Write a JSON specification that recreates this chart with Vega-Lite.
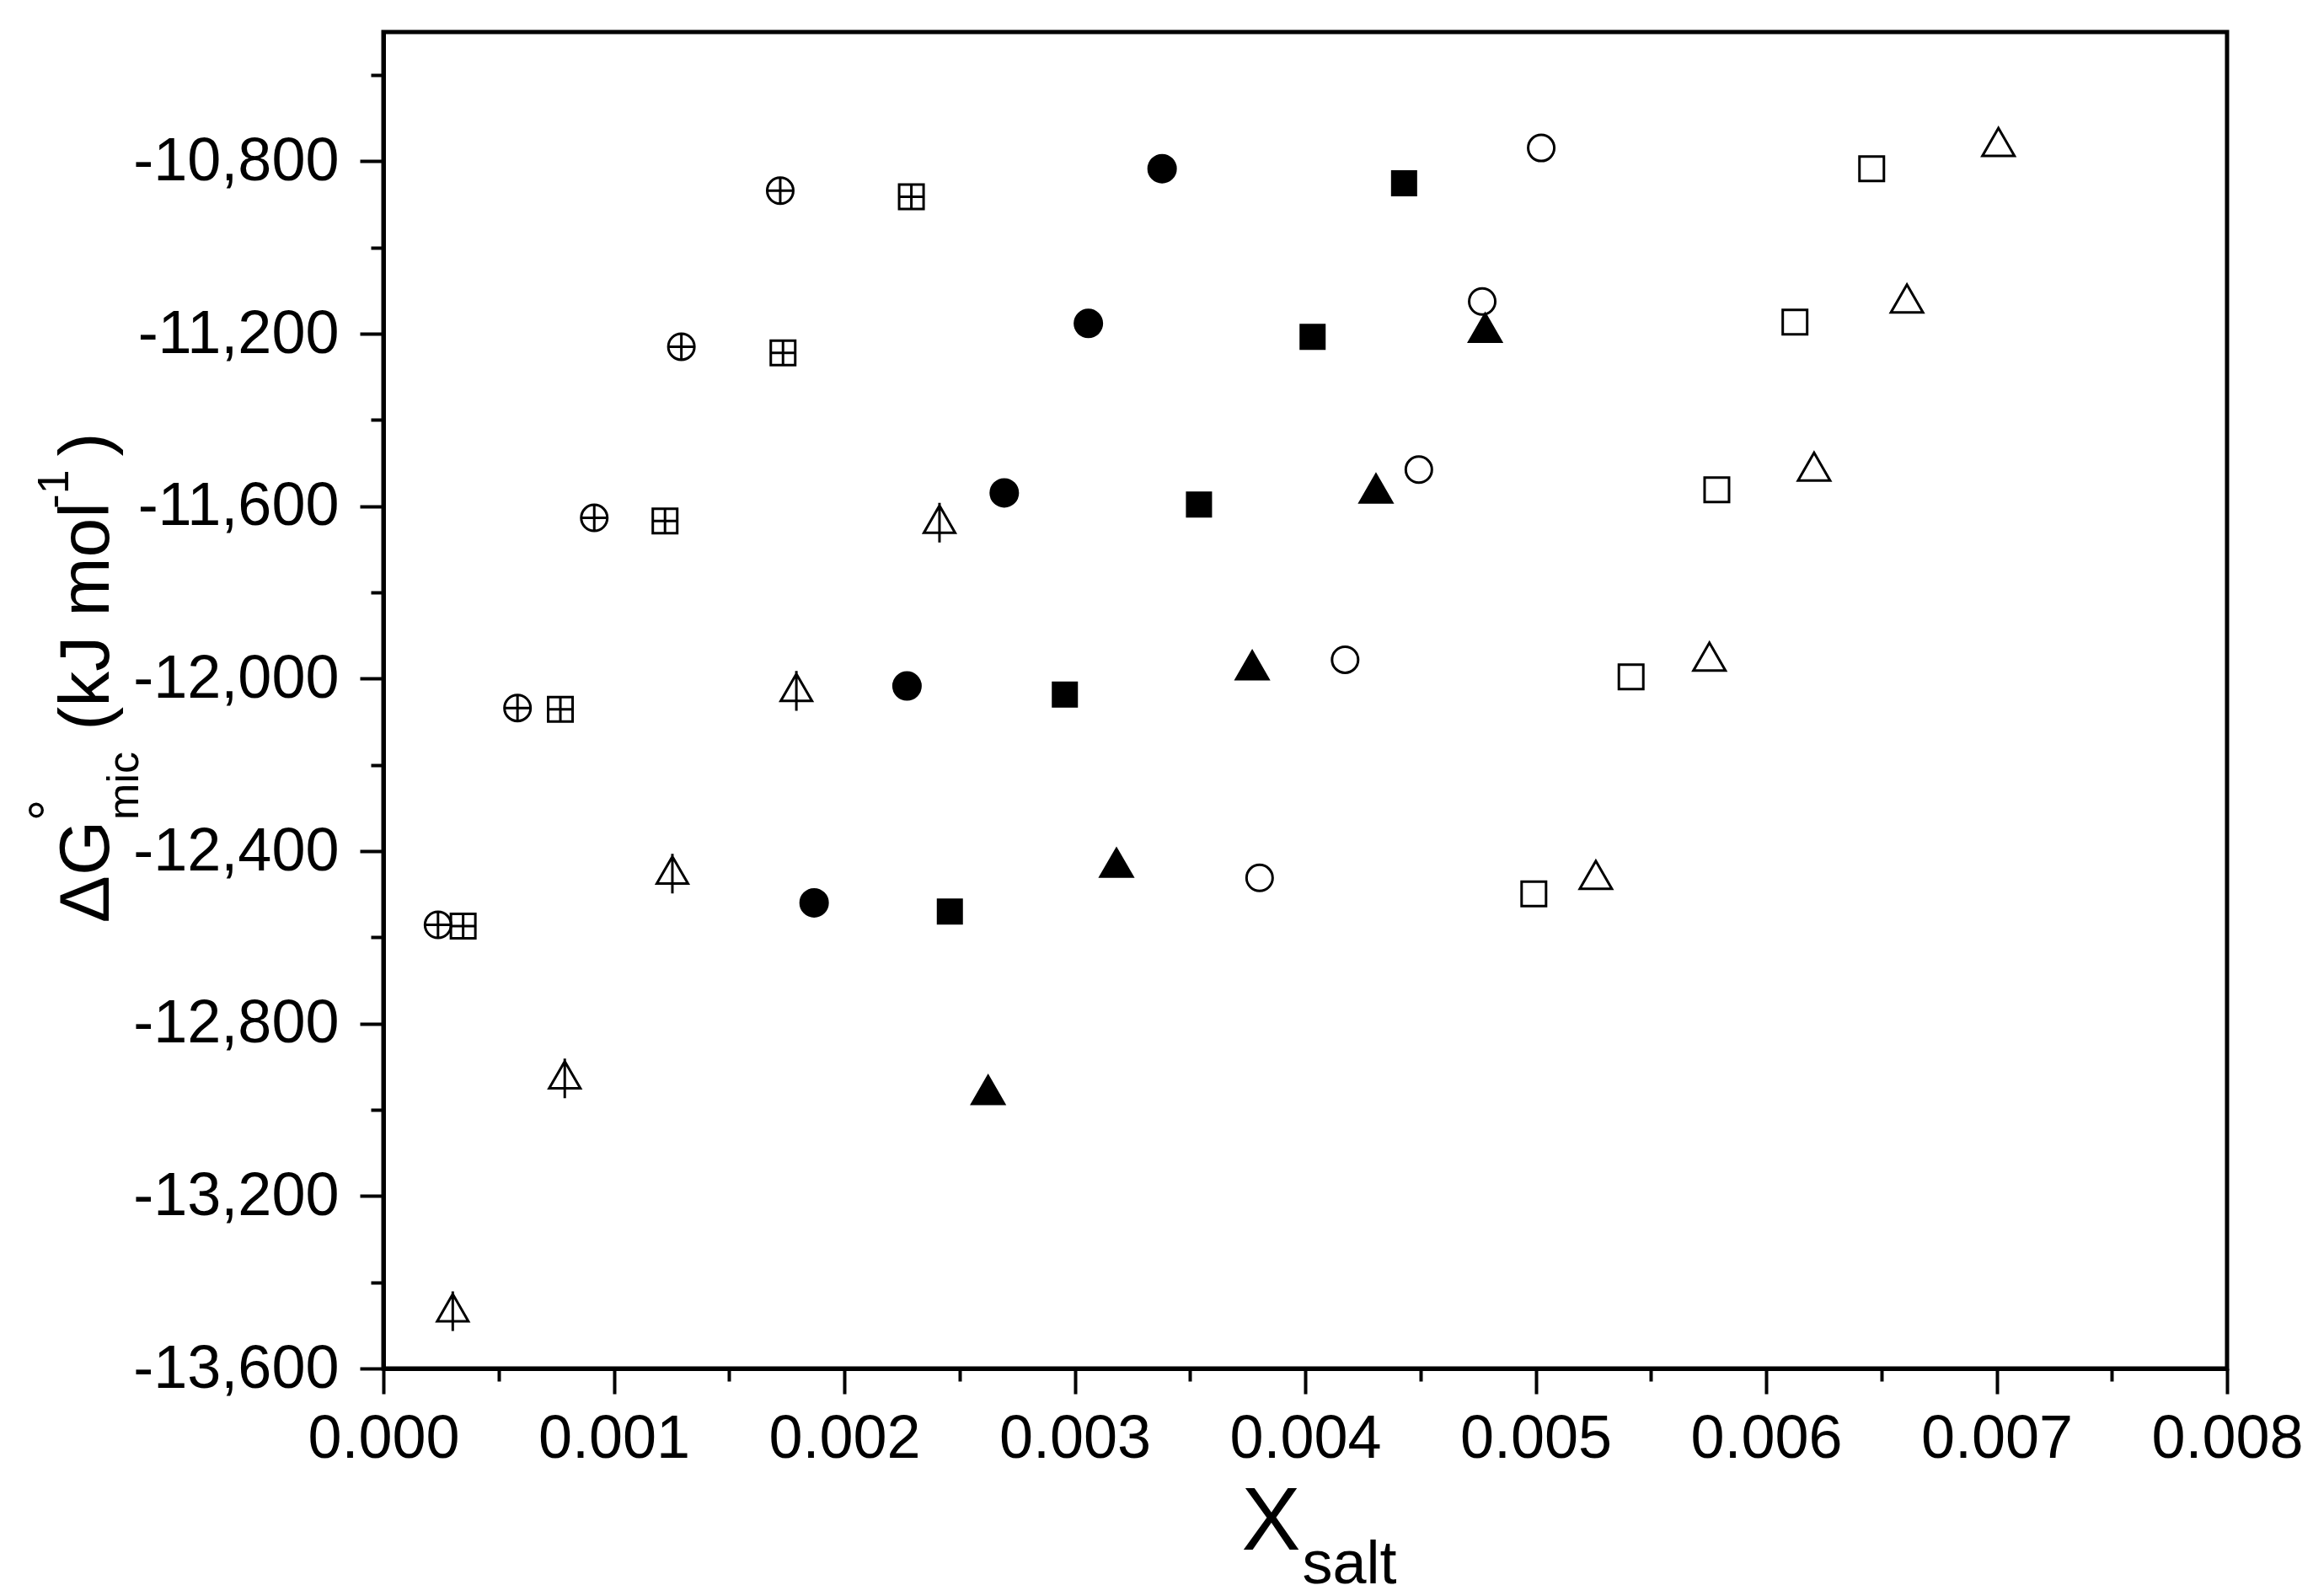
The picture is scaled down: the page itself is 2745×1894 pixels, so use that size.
{
  "$schema": "https://vega.github.io/schema/vega-lite/v6.json",
  "width": 2188,
  "height": 1586,
  "autosize": {"type": "none"},
  "padding": {"left": 455, "top": 38, "right": 102, "bottom": 270},
  "background": "white",
  "data": {
    "values": [
      {"s": "cplus", "x": 0.001722, "y": -10868},
      {"s": "cplus", "x": 0.001293, "y": -11230},
      {"s": "cplus", "x": 0.000915, "y": -11627},
      {"s": "cplus", "x": 0.000582, "y": -12068},
      {"s": "cplus", "x": 0.000237, "y": -12571},
      {"s": "splus", "x": 0.002291, "y": -10882},
      {"s": "splus", "x": 0.001734, "y": -11244},
      {"s": "splus", "x": 0.001222, "y": -11634},
      {"s": "splus", "x": 0.000768, "y": -12071},
      {"s": "splus", "x": 0.000346, "y": -12574},
      {"s": "tline", "x": 0.002413, "y": -11630},
      {"s": "tline", "x": 0.001792, "y": -12020},
      {"s": "tline", "x": 0.001254, "y": -12444},
      {"s": "tline", "x": 0.000787, "y": -12919},
      {"s": "tline", "x": 0.000301, "y": -13459},
      {"s": "fcircle", "x": 0.003379, "y": -10817},
      {"s": "fcircle", "x": 0.003059, "y": -11176},
      {"s": "fcircle", "x": 0.002694, "y": -11569},
      {"s": "fcircle", "x": 0.002272, "y": -12017},
      {"s": "fcircle", "x": 0.001869, "y": -12520},
      {"s": "fsquare", "x": 0.004429, "y": -10851},
      {"s": "fsquare", "x": 0.004032, "y": -11207},
      {"s": "fsquare", "x": 0.003539, "y": -11596},
      {"s": "fsquare", "x": 0.002957, "y": -12037},
      {"s": "fsquare", "x": 0.002458, "y": -12540},
      {"s": "ftriangle", "x": 0.004781, "y": -11186},
      {"s": "ftriangle", "x": 0.004307, "y": -11559},
      {"s": "ftriangle", "x": 0.00377, "y": -11969},
      {"s": "ftriangle", "x": 0.003181, "y": -12427},
      {"s": "ftriangle", "x": 0.002624, "y": -12954},
      {"s": "ocircle", "x": 0.005024, "y": -10769},
      {"s": "ocircle", "x": 0.004768, "y": -11125},
      {"s": "ocircle", "x": 0.004493, "y": -11515},
      {"s": "ocircle", "x": 0.004173, "y": -11956},
      {"s": "ocircle", "x": 0.003802, "y": -12462},
      {"s": "osquare", "x": 0.006458, "y": -10817},
      {"s": "osquare", "x": 0.006125, "y": -11173},
      {"s": "osquare", "x": 0.005786, "y": -11562},
      {"s": "osquare", "x": 0.005414, "y": -11996},
      {"s": "osquare", "x": 0.004992, "y": -12499},
      {"s": "otriangle", "x": 0.007008, "y": -10755},
      {"s": "otriangle", "x": 0.006611, "y": -11118},
      {"s": "otriangle", "x": 0.006208, "y": -11508},
      {"s": "otriangle", "x": 0.005754, "y": -11949},
      {"s": "otriangle", "x": 0.005261, "y": -12455}
    ]
  },
  "layer": [
    {
      "mark": {"type": "point", "filled": true, "opacity": 1, "stroke": "black", "strokeWidth": 3},
      "encoding": {
        "x": {
          "field": "x", "type": "quantitative",
          "scale": {"domain": [0, 0.008], "nice": false, "zero": false},
          "axis": {
            "orient": "bottom",
            "values": [0, 0.001, 0.002, 0.003, 0.004, 0.005, 0.006, 0.007, 0.008],
            "format": ".3f",
            "labelFontSize": 72,
            "labelPadding": 18,
            "labelLimit": 1000,
            "labelFlush": false,
            "labelOverlap": false,
            "tickSize": 30,
            "title": "X",
            "titleFontSize": 105,
            "titleX": 1053,
            "titleY": 214,
            "titleAlign": "center",
            "titleBaseline": "alphabetic",
            "titleAngle": 0
          }
        },
        "y": {
          "field": "y", "type": "quantitative",
          "scale": {"domain": [-13600, -10500], "nice": false, "zero": false},
          "axis": {
            "orient": "left",
            "values": [-13600, -13200, -12800, -12400, -12000, -11600, -11200, -10800],
            "labelExpr": "'-' + format(-datum.value, ',')",
            "labelFontSize": 72,
            "labelPadding": 25,
            "labelLimit": 1000,
            "labelOverlap": false,
            "tickSize": 28,
            "title": "ΔG",
            "titleFontSize": 84,
            "titleAngle": -90,
            "titleX": -327,
            "titleY": 996,
            "titleAlign": "center",
            "titleBaseline": "alphabetic"
          }
        },
        "shape": {
          "field": "s", "type": "nominal", "legend": null,
          "scale": {
            "domain": ["cplus", "splus", "tline", "fcircle", "fsquare", "ftriangle", "ocircle", "osquare", "otriangle"],
            "range": [
              "M1,0 A1,1 0 1,1 -1,0 A1,1 0 1,1 1,0 Z M-1,0 L1,0 M0,-1 L0,1",
              "M-1,-1 L1,-1 L1,1 L-1,1 Z M-1,0 L1,0 M0,-1 L0,1",
              "M0,-0.866 L-1,0.866 L1,0.866 Z M0,-1.05 L0,1.5",
              "circle", "square", "triangle-up",
              "circle", "square", "triangle-up"
            ]
          }
        },
        "fill": {
          "field": "s", "type": "nominal", "legend": null,
          "scale": {
            "domain": ["cplus", "splus", "tline", "fcircle", "fsquare", "ftriangle", "ocircle", "osquare", "otriangle"],
            "range": ["transparent", "transparent", "transparent", "black", "black", "black", "transparent", "transparent", "transparent"]
          }
        },
        "size": {
          "field": "s", "type": "nominal", "legend": null,
          "scale": {
            "type": "ordinal",
            "domain": ["cplus", "splus", "tline", "fcircle", "fsquare", "ftriangle", "ocircle", "osquare", "otriangle"],
            "range": [960, 841, 1369, 1024, 784, 1444, 961, 841, 1444]
          }
        }
      }
    },
    {
      "mark": {"type": "point", "opacity": 0},
      "encoding": {
        "x": {
          "field": "x", "type": "quantitative",
          "scale": {"domain": [0, 0.008], "nice": false, "zero": false},
          "axis": {
            "orient": "bottom",
            "values": [0.0005, 0.0015, 0.0025, 0.0035, 0.0045, 0.0055, 0.0065, 0.0075],
            "labels": false,
            "domain": false,
            "tickSize": 15,
            "title": "salt",
            "titleFontSize": 72,
            "titleX": 1146,
            "titleY": 254,
            "titleAlign": "center",
            "titleBaseline": "alphabetic",
            "titleAngle": 0
          }
        },
        "y": {
          "field": "y", "type": "quantitative",
          "scale": {"domain": [-13600, -10500], "nice": false, "zero": false},
          "axis": {
            "orient": "left",
            "values": [-13400, -13000, -12600, -12200, -11800, -11400, -11000, -10600],
            "labels": false,
            "domain": false,
            "tickSize": 15,
            "title": "mic",
            "titleFontSize": 52,
            "titleAngle": -90,
            "titleX": -292,
            "titleY": 894,
            "titleAlign": "center",
            "titleBaseline": "alphabetic"
          }
        }
      }
    },
    {
      "mark": {"type": "point", "opacity": 0},
      "encoding": {
        "x": {
          "field": "x", "type": "quantitative",
          "scale": {"domain": [0, 0.008], "nice": false, "zero": false},
          "axis": {
            "orient": "bottom",
            "labels": false,
            "ticks": false,
            "domain": false,
            "title": "(kJ mol",
            "titleFontSize": 84,
            "titleAngle": -90,
            "titleX": -327,
            "titleY": -893,
            "titleAlign": "center",
            "titleBaseline": "alphabetic"
          }
        },
        "y": {
          "field": "y", "type": "quantitative",
          "scale": {"domain": [-13600, -10500], "nice": false, "zero": false},
          "axis": {
            "orient": "left",
            "labels": false,
            "ticks": false,
            "domain": false,
            "title": "°",
            "titleFontSize": 64,
            "titleAngle": -90,
            "titleX": -377,
            "titleY": 923,
            "titleAlign": "center",
            "titleBaseline": "alphabetic"
          }
        }
      }
    },
    {
      "mark": {"type": "point", "opacity": 0},
      "encoding": {
        "x": {
          "field": "x", "type": "quantitative",
          "scale": {"domain": [0, 0.008], "nice": false, "zero": false},
          "axis": {
            "orient": "bottom",
            "labels": false,
            "ticks": false,
            "domain": false,
            "title": "-1",
            "titleFontSize": 52,
            "titleAngle": -90,
            "titleX": -375,
            "titleY": -1044,
            "titleAlign": "center",
            "titleBaseline": "alphabetic"
          }
        },
        "y": {
          "field": "y", "type": "quantitative",
          "scale": {"domain": [-13600, -10500], "nice": false, "zero": false},
          "axis": {
            "orient": "left",
            "labels": false,
            "ticks": false,
            "domain": false,
            "title": ")",
            "titleFontSize": 84,
            "titleAngle": -90,
            "titleX": -327,
            "titleY": 489,
            "titleAlign": "center",
            "titleBaseline": "alphabetic"
          }
        }
      }
    }
  ],
  "resolve": {"axis": {"x": "independent", "y": "independent"}},
  "config": {
    "view": {"stroke": "black", "strokeWidth": 5, "fill": "white"},
    "axis": {
      "grid": false,
      "labelFont": "Liberation Sans",
      "titleFont": "Liberation Sans",
      "titleFontWeight": "normal",
      "labelColor": "black",
      "titleColor": "black",
      "tickColor": "black",
      "tickWidth": 4,
      "domainColor": "black",
      "domainWidth": 5,
      "titlePadding": 0
    }
  }
}
